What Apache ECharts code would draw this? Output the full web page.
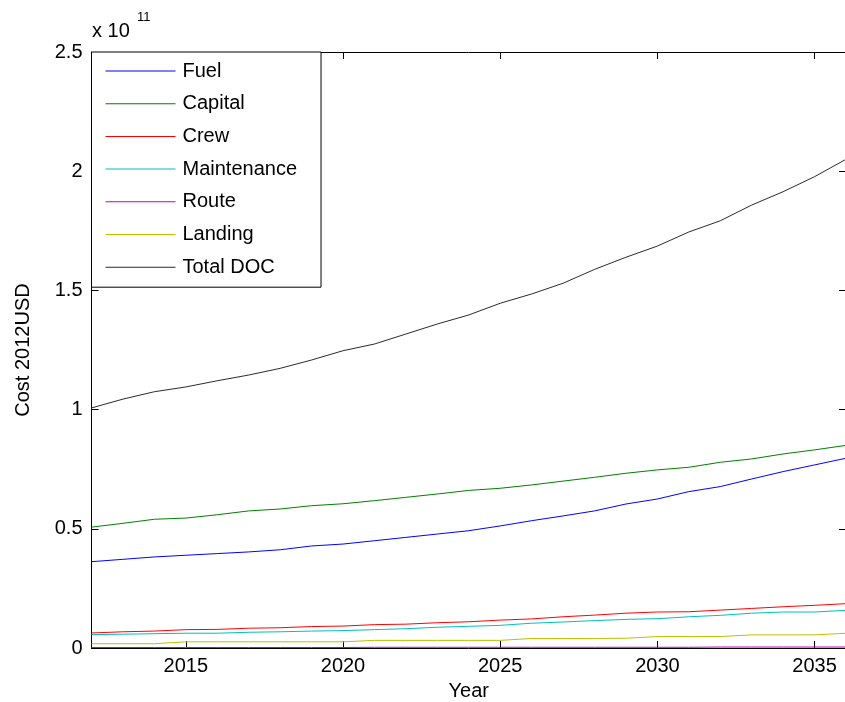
<!DOCTYPE html>
<html>
<head>
<meta charset="utf-8">
<script src="https://cdn.jsdelivr.net/npm/echarts@6/dist/echarts.min.js"></script>
<style>
  html, body { margin: 0; padding: 0; background: #fff; }
  #chart { width: 845px; height: 702px; }
</style>
</head>
<body>
<div id="chart"></div>
<script>
// Direct operating cost components, in units of 1e11 (2012 USD)
const years = [2012, 2013, 2014, 2015, 2016, 2017, 2018, 2019, 2020, 2021, 2022, 2023, 2024,
               2025, 2026, 2027, 2028, 2029, 2030, 2031, 2032, 2033, 2034, 2035, 2036];
const fuel = [0.362, 0.372, 0.382, 0.389, 0.396, 0.403, 0.412, 0.428, 0.436, 0.450, 0.464, 0.478, 0.492,
              0.512, 0.534, 0.554, 0.575, 0.604, 0.625, 0.656, 0.677, 0.709, 0.740, 0.768, 0.796];
const capital = [0.507, 0.523, 0.540, 0.545, 0.559, 0.575, 0.583, 0.597, 0.605, 0.618, 0.632, 0.646, 0.661,
                 0.670, 0.684, 0.700, 0.716, 0.733, 0.747, 0.758, 0.779, 0.793, 0.814, 0.831, 0.850];
const crew = [0.063, 0.068, 0.071, 0.077, 0.078, 0.083, 0.085, 0.090, 0.092, 0.098, 0.100, 0.106, 0.110,
              0.117, 0.122, 0.131, 0.138, 0.146, 0.151, 0.152, 0.159, 0.166, 0.173, 0.179, 0.186];
const maintenance = [0.056, 0.058, 0.060, 0.062, 0.062, 0.066, 0.068, 0.071, 0.073, 0.077, 0.081, 0.087, 0.091,
                     0.095, 0.104, 0.109, 0.115, 0.120, 0.123, 0.131, 0.137, 0.146, 0.151, 0.151, 0.158];
const route = [0.002, 0.002, 0.002, 0.002, 0.002, 0.002, 0.002, 0.002, 0.002, 0.003, 0.003, 0.003, 0.003,
               0.003, 0.003, 0.003, 0.003, 0.003, 0.003, 0.003, 0.004, 0.004, 0.004, 0.004, 0.004];
const landing = [0.018, 0.018, 0.018, 0.026, 0.026, 0.026, 0.026, 0.026, 0.026, 0.032, 0.032, 0.032, 0.032,
                 0.032, 0.040, 0.040, 0.040, 0.041, 0.048, 0.048, 0.048, 0.055, 0.055, 0.055, 0.062];
const totalDoc = [1.007, 1.044, 1.075, 1.095, 1.121, 1.145, 1.173, 1.208, 1.247, 1.275, 1.317, 1.359, 1.397,
                  1.446, 1.485, 1.530, 1.588, 1.639, 1.686, 1.745, 1.792, 1.858, 1.914, 1.977, 2.050];

const xTicks = [2015, 2020, 2025, 2030, 2035];
const yTicks = [0, 0.5, 1, 1.5, 2, 2.5];

const seriesDefs = [
  { name: 'Fuel', data: fuel, color: '#0000ff' },
  { name: 'Capital', data: capital, color: '#008000' },
  { name: 'Crew', data: crew, color: '#ff0000' },
  { name: 'Maintenance', data: maintenance, color: '#00bfbf' },
  { name: 'Route', data: route, color: '#bf00bf' },
  { name: 'Landing', data: landing, color: '#bfbf00' },
  { name: 'Total DOC', data: totalDoc, color: '#2a2a2a' }
];

const FONT = 'Liberation Sans, Arial, Helvetica, sans-serif';

const chart = echarts.init(document.getElementById('chart'), null, { renderer: 'canvas' });

const tickStyle = { show: true, inside: true, length: 7, lineStyle: { color: '#000', width: 1 } };

chart.setOption({
  animation: false,
  backgroundColor: '#fff',
  grid: { left: 91.5, right: -1, top: 52, bottom: 54, containLabel: false, outerBoundsMode: 'none' },
  xAxis: [
    {
      type: 'value', min: 2012, max: 2036, position: 'bottom',
      name: 'Year', nameLocation: 'middle', nameGap: 33,
      nameTextStyle: { fontFamily: FONT, fontSize: 20, color: '#000' },
      axisLine: { show: true, onZero: false, lineStyle: { color: '#000', width: 1 } },
      axisTick: Object.assign({ customValues: xTicks }, tickStyle),
      axisLabel: {
        customValues: xTicks, margin: 8, fontFamily: FONT, fontSize: 20, color: '#000',
        formatter: v => String(v)
      },
      splitLine: { show: false }
    },
    {
      type: 'value', min: 2012, max: 2036, position: 'top',
      axisLine: { show: true, onZero: false, lineStyle: { color: '#000', width: 1 } },
      axisTick: Object.assign({ customValues: xTicks }, tickStyle),
      axisLabel: { show: false },
      splitLine: { show: false }
    }
  ],
  yAxis: [
    {
      type: 'value', min: 0, max: 2.5, interval: 0.5, position: 'left',
      name: 'Cost 2012USD', nameLocation: 'middle', nameGap: 58, nameRotate: 90,
      nameTextStyle: { fontFamily: FONT, fontSize: 20, color: '#000' },
      axisLine: { show: true, onZero: false, lineStyle: { color: '#000', width: 1 } },
      axisTick: Object.assign({ customValues: yTicks }, tickStyle),
      axisLabel: { customValues: yTicks, margin: 9, fontFamily: FONT, fontSize: 20, color: '#000' },
      splitLine: { show: false }
    },
    {
      type: 'value', min: 0, max: 2.5, interval: 0.5, position: 'right',
      axisLine: { show: true, onZero: false, lineStyle: { color: '#000', width: 1 } },
      axisTick: Object.assign({ customValues: yTicks }, tickStyle),
      axisLabel: { show: false },
      splitLine: { show: false }
    }
  ],
  legend: {
    orient: 'vertical',
    left: 91.5, top: 52,
    padding: [9, 24, 10, 14],
    itemWidth: 70, itemHeight: 20, itemGap: 12.7,
    backgroundColor: '#fff',
    borderColor: '#000', borderWidth: 1,
    textStyle: { fontFamily: FONT, fontSize: 20, color: '#000', lineHeight: 20, padding: [0, 0, 0, 2] },
    data: seriesDefs.map(s => ({ name: s.name, icon: 'path://M0,0 L70,0 L70,1 L0,1 Z' }))
  },
  graphic: [
    { type: 'text', left: 92, top: 21, style: { text: 'x 10', font: '20px ' + FONT, fill: '#000' } },
    { type: 'text', left: 137, top: 11, style: { text: '11', font: '13px ' + FONT, fill: '#000' } }
  ],
  series: seriesDefs.map(s => ({
    name: s.name,
    type: 'line',
    xAxisIndex: 0, yAxisIndex: 0,
    showSymbol: false, symbol: 'none',
    data: years.map((y, i) => [y, s.data[i]]),
    itemStyle: { color: s.color },
    lineStyle: { color: s.color, width: 1 },
    z: 2
  }))
});
</script>
</body>
</html>
